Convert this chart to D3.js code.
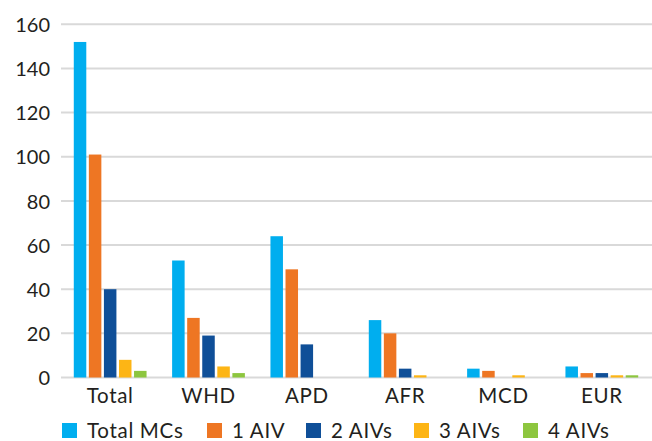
<!DOCTYPE html>
<html>
<head>
<meta charset="utf-8">
<script src="https://cdn.jsdelivr.net/npm/d3@7"></script>
<style>
  html, body { margin: 0; padding: 0; background: #fff; }
  svg { display: block; }
  text { font-family: Lato, "Open Sans", sans-serif; fill: #231f20; }
</style>
</head>
<body>
<svg id="chart" width="652" height="441"></svg>
<script>
const categories = ["Total", "WHD", "APD", "AFR", "MCD", "EUR"];
const seriesNames = ["Total MCs", "1 AIV", "2 AIVs", "3 AIVs", "4 AIVs"];
const totalMCs = [152, 53, 64, 26, 4, 5];
const oneAIV   = [101, 27, 49, 20, 3, 2];
const twoAIVs  = [40, 19, 15, 4, 0, 2];
const threeAIVs = [8, 5, 0, 1, 1, 1];
const fourAIVs = [3, 2, 0, 0, 0, 1];
const yTicks = [0, 20, 40, 60, 80, 100, 120, 140, 160];
const colors = ["#00AEEF", "#EE7623", "#0F4F98", "#FDB515", "#8DC63F"];

const series = [totalMCs, oneAIV, twoAIVs, threeAIVs, fourAIVs];

const svg = d3.select("#chart");
const plotLeft = 61, plotRight = 651, plotTop = 24.3, plotBottom = 377.5;

const x0 = d3.scaleBand().domain(categories).range([plotLeft, plotRight]).padding(0);
const bw = x0.bandwidth();
const x1 = d3.scaleBand().domain(seriesNames)
  .range([bw * 0.13, bw * 0.87]).paddingInner(0.17).paddingOuter(0);
const y = d3.scaleLinear().domain([0, 160]).range([plotBottom, plotTop]);

// gridlines
svg.append("g").selectAll("line").data(yTicks).join("line")
  .attr("x1", plotLeft).attr("x2", 652)
  .attr("y1", d => y(d)).attr("y2", d => y(d))
  .attr("stroke", "#d9d9d9").attr("stroke-width", 2);

// y tick labels
const yAxis = d3.axisLeft(y).tickValues(yTicks).tickSize(0).tickPadding(0);
const yg = svg.append("g").attr("transform", `translate(50,0)`).call(yAxis);
yg.select(".domain").remove();
yg.selectAll("text").attr("font-size", 20).attr("font-family", "Lato, sans-serif")
  .attr("fill", "#231f20").attr("dy", "0.36em");

// bars
const groups = svg.append("g").selectAll("g").data(categories).join("g")
  .attr("transform", d => `translate(${x0(d)},0)`);
groups.selectAll("rect")
  .data((c, ci) => seriesNames.map((s, si) => ({ s, si, v: series[si][ci] })))
  .join("rect")
  .attr("x", d => x1(d.s))
  .attr("width", x1.bandwidth())
  .attr("y", d => y(d.v))
  .attr("height", d => Math.max(0, plotBottom - y(d.v)))
  .attr("fill", d => colors[d.si]);

// x axis labels
const xAxis = d3.axisBottom(x0).tickSize(0).tickPadding(0);
const xg = svg.append("g").attr("transform", `translate(0,${plotBottom})`).call(xAxis);
xg.select(".domain").remove();
xg.selectAll("text").attr("font-size", 20.5).attr("font-family", "Lato, sans-serif")
  .attr("letter-spacing", "0.7px")
  .attr("fill", "#231f20").attr("dy", "0").attr("y", 25.5);

// legend
const legendX = [62, 207, 306, 414, 523];
const leg = svg.append("g").selectAll("g").data(seriesNames).join("g")
  .attr("transform", (d, i) => `translate(${legendX[i]},423)`);
leg.append("rect").attr("width", 15).attr("height", 15)
  .attr("fill", (d, i) => colors[i]);
leg.append("text").attr("x", 25).attr("y", 14.5)
  .attr("letter-spacing", "0.7px")
  .attr("font-size", 20.5).text(d => d);
</script>
</body>
</html>
